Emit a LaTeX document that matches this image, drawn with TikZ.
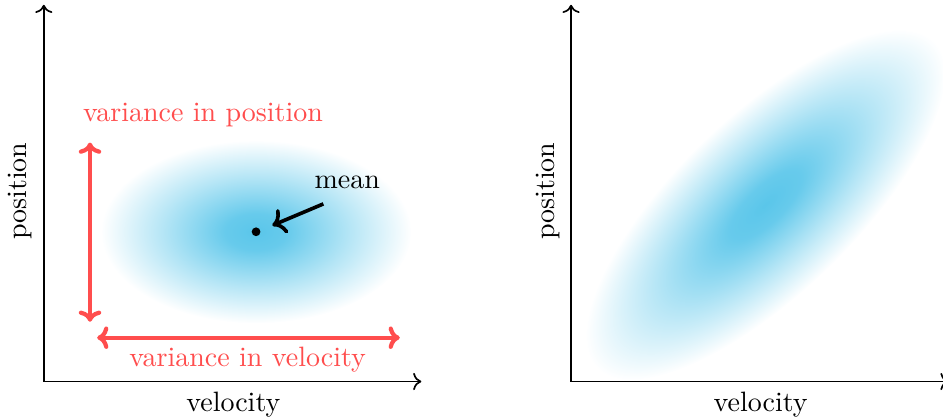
\documentclass[tikz,border=0pt]{standalone}
\usepackage{xcolor}
\usepackage{tikz}
\usetikzlibrary{positioning, arrows.meta, calc}
\definecolor{varRed}{RGB}{255, 77, 77}
\definecolor{gaussBlue}{RGB}{90, 198, 234}
\pgfdeclareradialshading{gauss}{\pgfpoint{0bp}{0bp}}{
    color(0bp)=(gaussBlue); color(5bp)=(gaussBlue!92); color(15bp)=(gaussBlue!45); color(25bp)=(white); color(50bp)=(white)}

\begin{document}
\begin{tikzpicture}[
        ax/.style={-To, semithick},
        var/.style={{To[length=4pt,width=8pt]}-{To[length=4pt,width=8pt]}, line width=1.5pt, varRed},
        lbl/.style={font=\normalsize, text=black},
        varlbl/.style={font=\normalsize, text=varRed}
    ]
    \useasboundingbox (0,0) rectangle (11.84,5.27);
    % left: independent
    \coordinate (o1) at (0.55,0.48);
    \coordinate (y1) at (0.55,5.21);
    \coordinate (x1) at (5.29,0.48);
    \shade[shading=gauss] (3.215,2.36) ellipse (1.95 and 1.15);
    \draw[ax] (o1) -- (y1);
    \draw[ax] (o1) -- (x1);
    \node[lbl, rotate=90] (pos1) at (0.25,2.87) {position};
    \node[lbl] (vel1) at (2.93,0.19) {velocity};
    \coordinate (pb) at (1.13,1.23);
    \coordinate (pt) at (1.13,3.48);
    \coordinate (vl) at (1.22,1.03);
    \coordinate (vr) at (5.02,1.03);
    \draw[var] (pb) -- (pt);
    \draw[var] (vl) -- (vr);
    \node[varlbl] (vpos) at (2.55,3.83) {variance in position};
    \node[varlbl] (vvel) at (3.11,0.75) {variance in velocity};
    \fill (3.215,2.36) circle (0.055) coordinate (mu);
    \node[lbl] (mean) at (4.36,2.98) {mean};
    \coordinate (mtail) at (4.06,2.71);
    \coordinate (mhead) at (3.42,2.44);
    \draw[-To, line width=1.3pt] (mtail) -- (mhead);
    % right: correlated
    \coordinate (o2) at (7.17,0.48);
    \coordinate (y2) at (7.17,5.21);
    \coordinate (x2) at (11.91,0.48);
    \begin{scope}[transform canvas={rotate around={44:(9.61,2.70)}}]
        \shade[shading=gauss] (9.61,2.70) ellipse (2.95 and 1.12);
    \end{scope}
    \draw[ax] (o2) -- (y2);
    \draw[ax] (o2) -- (x2);
    \node[lbl, rotate=90] (pos2) at (6.88,2.87) {position};
    \node[lbl] (vel2) at (9.55,0.19) {velocity};
\end{tikzpicture}
\end{document}
